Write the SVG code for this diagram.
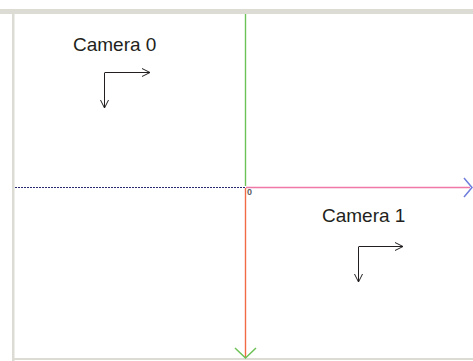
<svg xmlns="http://www.w3.org/2000/svg" width="473" height="361" viewBox="0 0 473 361">
<style>
.lbl{font-family:"Liberation Sans",Arial,sans-serif;font-size:19px;fill:#231f20}
.cam{stroke:#231f20;stroke-width:1;fill:none}
.frame{fill:#dcdcd5}
</style>
<defs>
<marker id="oa" viewBox="0 0 10 10" refX="10" refY="5" markerWidth="10" markerHeight="10" markerUnits="userSpaceOnUse" orient="auto">
<path d="M2,1 L10,5 L2,9" fill="none" stroke="#231f20" stroke-width="1"/>
</marker>
</defs>
<rect width="473" height="361" fill="#ffffff"/>
<g id="frame">
<rect class="frame" x="0" y="9" width="473" height="5"/>
<rect class="frame" x="12" y="9" width="2.5" height="352"/>
<rect class="frame" x="12" y="358" width="461" height="2"/>
</g>
<g id="connectors">
<line x1="245.5" y1="14" x2="245.5" y2="186" stroke="#6cc256" stroke-width="1.4"/>
<line x1="245.5" y1="188" x2="245.5" y2="357" stroke="#f06a44" stroke-width="1.4"/>
<polyline points="235,348 245.5,358 256,348" fill="none" stroke="#6cc256" stroke-width="1.5"/>
<line x1="15" y1="187.5" x2="245" y2="187.5" stroke="#2a2a72" stroke-width="1.2" stroke-dasharray="2,1"/>
<line x1="246" y1="187.5" x2="470" y2="187.5" stroke="#ee78a6" stroke-width="1.4"/>
<polyline points="464,178 472,187.5 464,197" fill="none" stroke="#6e7cdc" stroke-width="1.5"/>
<text x="247" y="194.5" font-family="'Liberation Sans',Arial,sans-serif" font-size="9" font-weight="bold" fill="#606060">0</text>
</g>
<g id="camera0">
<text class="lbl" x="73" y="51">Camera 0</text>
<path class="cam" d="M105,72.5 H150" marker-end="url(#oa)"/>
<path class="cam" d="M104.5,72.5 V108" marker-end="url(#oa)"/>
</g>
<g id="camera1">
<text class="lbl" x="322" y="222">Camera 1</text>
<path class="cam" d="M359,246.5 H403" marker-end="url(#oa)"/>
<path class="cam" d="M358.5,246.5 V282" marker-end="url(#oa)"/>
</g>
</svg>
